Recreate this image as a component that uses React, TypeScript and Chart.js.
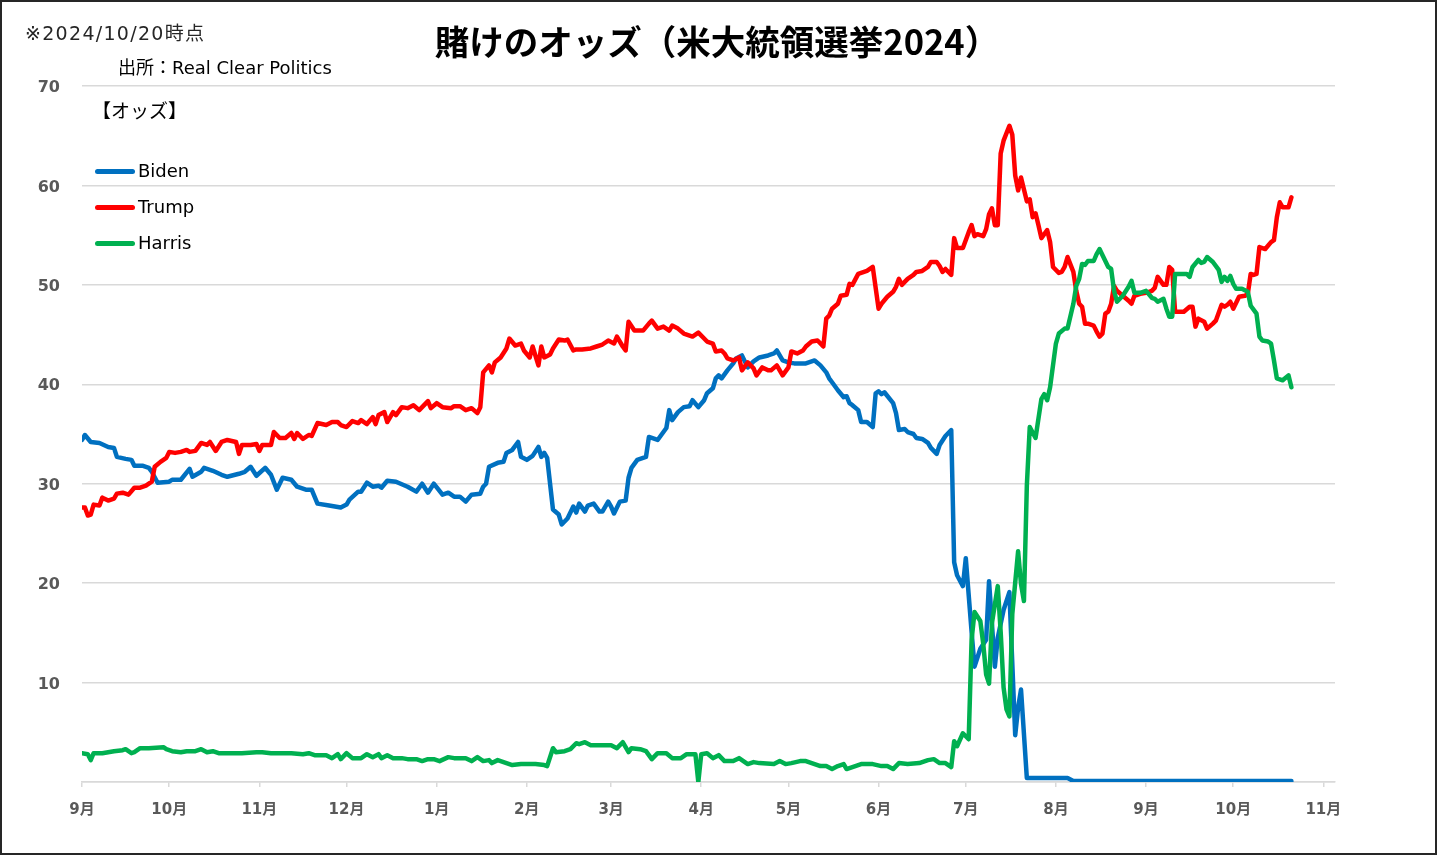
import React, { useEffect, useRef } from "react";
import { Chart, registerables } from "chart.js";

Chart.register(...registerables);

// x values: days since 2023-09-01
const monthDays = [0, 30, 61, 91, 122, 153, 182, 213, 243, 274, 304, 335, 366, 396, 427];
const monthLabels = ["9月", "10月", "11月", "12月", "1月", "2月", "3月", "4月", "5月", "6月", "7月", "8月", "9月", "10月", "11月"];
const yTickValues = [0, 10, 20, 30, 40, 50, 60, 70];

const bidenDays = [0, 1, 3, 6, 9, 11, 12, 15, 17, 18, 21, 23, 24, 26, 30, 31, 34, 37, 38, 41, 42, 45, 48, 50, 54, 56, 58, 60, 63, 65, 67, 69, 72, 74, 77, 79, 81, 85, 89, 91, 92, 95, 96, 98, 100, 102, 103, 105, 108, 112, 115, 117, 119, 121, 124, 126, 128, 130, 132, 134, 137, 138, 139, 140, 143, 145, 146, 148, 150, 151, 153, 155, 157, 158, 159, 160, 162, 164, 165, 167, 169, 170, 171, 173, 174, 176, 178, 179, 181, 182, 183, 185, 187, 188, 189, 191, 194, 195, 196, 198, 200, 201, 202, 203, 205, 207, 209, 210, 212, 214, 215, 217, 218, 219, 220, 222, 224, 225, 227, 229, 231, 233, 236, 238, 239, 241, 243, 245, 247, 249, 252, 254, 256, 257, 258, 260, 262, 263, 264, 265, 267, 268, 270, 272, 273, 274, 275, 276, 279, 280, 281, 283, 284, 286, 287, 289, 291, 292, 294, 295, 297, 299, 300, 301, 303, 304, 306, 307, 309, 311, 312, 314, 315, 317, 319, 321, 322, 323, 325, 339, 341, 416];
const bidenOdds = [34.4, 34.9, 34.2, 34.1, 33.7, 33.6, 32.7, 32.5, 32.4, 31.8, 31.8, 31.6, 31.2, 30.1, 30.2, 30.4, 30.4, 31.5, 30.7, 31.2, 31.6, 31.3, 30.9, 30.7, 31.0, 31.2, 31.7, 30.8, 31.6, 30.9, 29.4, 30.6, 30.4, 29.7, 29.4, 29.4, 28.0, 27.8, 27.6, 27.9, 28.4, 29.2, 29.2, 30.1, 29.7, 29.8, 29.6, 30.3, 30.2, 29.7, 29.2, 30.0, 29.1, 30.0, 28.9, 29.1, 28.7, 28.7, 28.2, 28.9, 29.0, 29.7, 30.0, 31.7, 32.1, 32.2, 33.1, 33.4, 34.2, 32.7, 32.4, 32.8, 33.7, 32.7, 33.1, 32.6, 27.4, 26.9, 25.9, 26.5, 27.7, 27.1, 28.0, 27.2, 27.8, 28.0, 27.2, 27.2, 28.2, 27.7, 27.0, 28.2, 28.3, 30.6, 31.6, 32.4, 32.7, 34.7, 34.6, 34.4, 35.2, 35.6, 37.4, 36.4, 37.2, 37.7, 37.8, 38.4, 37.7, 38.4, 39.1, 39.6, 40.6, 40.9, 40.6, 41.4, 42.1, 42.6, 42.9, 41.7, 42.3, 42.7, 42.9, 43.1, 43.4, 42.4, 42.2, 42.1, 42.1, 42.1, 42.4, 41.9, 41.2, 40.6, 40.2, 39.4, 38.7, 38.8, 38.1, 37.9, 37.4, 36.2, 36.2, 35.7, 39.1, 39.3, 39.0, 39.2, 38.1, 37.1, 35.4, 35.5, 35.2, 35.0, 34.6, 34.5, 34.1, 33.6, 33.0, 33.9, 34.8, 35.4, 22.1, 20.8, 19.7, 22.5, 15.1, 11.6, 13.4, 14.3, 20.2, 11.6, 14.5, 17.3, 19.1, 4.7, 7.5, 9.3, 0.4, 0.4, 0.1, 0.1];

const trumpDays = [0, 1, 2, 3, 4, 6, 7, 9, 11, 12, 14, 16, 18, 20, 22, 24, 25, 27, 29, 30, 32, 34, 36, 37, 39, 41, 43, 44, 46, 48, 50, 53, 54, 55, 58, 60, 61, 62, 65, 66, 68, 70, 72, 73, 74, 76, 78, 79, 81, 84, 86, 88, 89, 91, 93, 95, 96, 98, 100, 101, 102, 104, 105, 107, 108, 110, 112, 114, 116, 119, 120, 122, 124, 127, 128, 130, 132, 134, 136, 137, 138, 140, 141, 142, 144, 146, 147, 149, 151, 152, 154, 155, 157, 158, 159, 161, 162, 164, 166, 167, 169, 170, 172, 175, 177, 179, 181, 183, 184, 186, 187, 188, 190, 193, 195, 196, 198, 200, 202, 203, 205, 207, 210, 212, 214, 215, 217, 218, 220, 221, 222, 224, 226, 227, 229, 231, 232, 234, 236, 237, 239, 241, 243, 244, 246, 248, 249, 251, 253, 255, 256, 257, 258, 260, 261, 263, 264, 265, 267, 269, 270, 272, 274, 275, 277, 279, 280, 281, 282, 284, 286, 287, 289, 291, 292, 294, 295, 296, 297, 299, 300, 301, 303, 305, 306, 307, 308, 310, 311, 312, 313, 314, 315, 316, 317, 319, 320, 321, 322, 323, 325, 326, 327, 328, 329, 330, 332, 333, 334, 336, 337, 338, 339, 341, 342, 343, 344, 345, 346, 348, 349, 350, 351, 352, 353, 354, 355, 356, 358, 360, 361, 362, 364, 366, 368, 369, 370, 372, 373, 374, 375, 376, 377, 379, 381, 382, 383, 384, 386, 387, 389, 390, 392, 393, 394, 395, 396, 398, 400, 401, 402, 403, 404, 405, 407, 409, 410, 411, 412, 413, 415, 416];
const trumpOdds = [27.6, 27.6, 26.8, 26.9, 27.9, 27.8, 28.6, 28.3, 28.5, 29.0, 29.1, 28.9, 29.6, 29.6, 29.8, 30.2, 31.7, 32.2, 32.6, 33.2, 33.1, 33.2, 33.4, 33.2, 33.3, 34.1, 33.9, 34.2, 33.3, 34.2, 34.4, 34.2, 33.0, 33.9, 33.9, 34.0, 33.3, 33.9, 33.9, 35.2, 34.6, 34.6, 35.1, 34.5, 35.1, 34.5, 34.9, 34.8, 36.1, 35.9, 36.2, 36.2, 35.9, 35.7, 36.3, 36.1, 36.4, 36.0, 36.7, 36.0, 36.9, 37.2, 36.2, 37.2, 36.9, 37.7, 37.6, 37.9, 37.4, 38.3, 37.6, 38.1, 37.7, 37.6, 37.8, 37.8, 37.4, 37.6, 37.1, 37.7, 41.2, 41.9, 41.2, 42.2, 42.7, 43.6, 44.6, 43.9, 44.1, 43.4, 42.7, 43.8, 41.9, 43.8, 42.7, 43.0, 43.6, 44.5, 44.4, 44.5, 43.4, 43.5, 43.5, 43.6, 43.8, 44.0, 44.4, 44.1, 44.8, 43.8, 43.4, 46.3, 45.4, 45.4, 46.1, 46.4, 45.6, 45.8, 45.4, 45.9, 45.6, 45.1, 44.8, 45.2, 44.6, 44.3, 44.1, 43.3, 43.4, 43.1, 42.6, 42.4, 42.7, 41.4, 42.2, 41.6, 40.9, 41.7, 41.4, 41.4, 41.9, 40.9, 41.7, 43.3, 43.1, 43.4, 43.8, 44.3, 44.4, 43.8, 46.6, 46.9, 47.6, 48.1, 48.9, 49.0, 50.1, 50.0, 51.1, 51.3, 51.4, 51.8, 47.6, 48.1, 48.8, 49.3, 49.8, 50.6, 50.0, 50.6, 51.0, 51.3, 51.4, 51.8, 52.3, 52.3, 51.9, 51.3, 51.6, 51.0, 54.7, 53.7, 53.7, 55.3, 56.0, 54.9, 55.1, 54.9, 55.6, 57.1, 57.7, 56.0, 56.0, 63.2, 64.5, 66.0, 65.1, 61.0, 59.5, 60.8, 58.4, 58.6, 56.8, 57.2, 56.0, 54.7, 55.5, 54.3, 51.8, 51.2, 51.3, 51.8, 52.8, 51.3, 49.4, 48.1, 47.8, 46.1, 46.1, 45.9, 45.3, 44.8, 45.1, 47.1, 47.3, 48.1, 49.9, 49.4, 48.9, 48.4, 48.1, 48.9, 49.1, 49.2, 49.4, 49.7, 50.8, 50.0, 50.0, 51.8, 51.5, 47.3, 47.3, 47.3, 47.8, 47.8, 45.8, 46.6, 46.3, 45.6, 46.1, 46.4, 48.0, 47.8, 48.0, 48.3, 47.6, 48.8, 48.9, 49.1, 51.1, 51.0, 51.1, 53.8, 53.6, 54.3, 54.5, 56.8, 58.3, 57.8, 57.8, 58.8];

const harrisDays = [0, 2, 3, 4, 7, 9, 11, 14, 15, 17, 18, 20, 23, 28, 29, 31, 34, 36, 39, 41, 43, 45, 47, 50, 55, 60, 62, 65, 72, 76, 78, 80, 84, 86, 88, 89, 91, 93, 96, 98, 100, 102, 103, 105, 107, 110, 112, 115, 117, 119, 121, 123, 126, 128, 132, 134, 136, 138, 140, 141, 143, 146, 148, 151, 156, 159, 160, 162, 163, 166, 168, 170, 171, 173, 175, 182, 184, 186, 188, 189, 192, 194, 196, 198, 201, 203, 206, 208, 211, 212, 213, 215, 217, 219, 221, 224, 226, 229, 231, 233, 238, 240, 242, 244, 247, 249, 252, 254, 256, 258, 260, 262, 263, 265, 268, 272, 275, 277, 279, 281, 284, 288, 291, 293, 295, 297, 299, 300, 301, 303, 305, 306, 307, 309, 310, 311, 312, 313, 315, 316, 317, 318, 319, 320, 322, 323, 324, 325, 326, 328, 330, 331, 332, 333, 335, 336, 338, 339, 341, 342, 343, 344, 345, 346, 348, 349, 350, 351, 353, 354, 355, 356, 358, 360, 361, 362, 364, 366, 368, 369, 370, 372, 373, 374, 375, 376, 378, 380, 381, 382, 384, 385, 386, 387, 389, 391, 392, 393, 394, 395, 396, 397, 399, 401, 402, 404, 405, 406, 408, 409, 410, 411, 413, 415, 416];
const harrisOdds = [2.9, 2.8, 2.2, 2.9, 2.9, 3.0, 3.1, 3.2, 3.3, 2.9, 3.0, 3.4, 3.4, 3.5, 3.3, 3.1, 3.0, 3.1, 3.1, 3.3, 3.0, 3.1, 2.9, 2.9, 2.9, 3.0, 3.0, 2.9, 2.9, 2.8, 2.9, 2.7, 2.7, 2.4, 2.8, 2.3, 2.9, 2.4, 2.4, 2.8, 2.5, 2.8, 2.4, 2.7, 2.4, 2.4, 2.3, 2.3, 2.1, 2.3, 2.3, 2.1, 2.5, 2.4, 2.4, 2.1, 2.5, 2.1, 2.2, 1.9, 2.2, 1.9, 1.7, 1.8, 1.8, 1.7, 1.6, 3.4, 3.0, 3.1, 3.3, 3.9, 3.8, 4.0, 3.7, 3.7, 3.4, 4.0, 3.0, 3.4, 3.3, 3.1, 2.3, 2.9, 2.9, 2.4, 2.4, 2.8, 2.8, 0.0, 2.8, 2.9, 2.4, 2.7, 2.1, 2.1, 2.4, 1.8, 2.0, 1.9, 1.8, 2.1, 1.8, 1.9, 2.1, 2.1, 1.8, 1.6, 1.6, 1.3, 1.6, 1.8, 1.3, 1.5, 1.8, 1.8, 1.6, 1.6, 1.3, 1.9, 1.8, 1.9, 2.2, 2.3, 1.9, 1.9, 1.5, 4.1, 3.6, 4.9, 4.3, 14.3, 17.1, 16.2, 13.9, 10.8, 9.9, 16.0, 19.7, 15.1, 9.5, 7.3, 6.6, 16.9, 23.2, 19.9, 18.2, 29.8, 35.7, 34.6, 38.5, 39.0, 38.4, 39.7, 44.1, 45.1, 45.6, 45.6, 48.1, 49.9, 50.6, 52.1, 52.0, 52.4, 52.4, 53.1, 53.6, 53.0, 51.8, 51.6, 49.4, 48.3, 48.9, 49.8, 50.4, 49.2, 49.2, 49.4, 48.7, 48.6, 48.3, 48.6, 47.6, 46.8, 46.8, 51.1, 51.1, 51.1, 50.8, 51.8, 52.5, 52.2, 52.3, 52.8, 52.3, 51.5, 50.3, 50.8, 50.4, 50.9, 50.1, 49.6, 49.6, 49.3, 47.9, 47.1, 44.8, 44.4, 44.3, 44.1, 42.4, 40.6, 40.4, 40.9, 39.7];

const seriesNames = ["Biden", "Trump", "Harris"];
const seriesColors = ["#0070C0", "#FF0000", "#00B050"];

const titleText = "賭けのオッズ（米大統領選挙2024）";
const asOfText = "※2024/10/20時点";
const sourceText = "出所：Real Clear Politics";
const unitText = "【オッズ】";

const W = 1437;
const H = 855;
const latinFont = "'DejaVu Sans', 'Noto Sans CJK JP', sans-serif";
const cjkFont = "'Noto Sans CJK JP', 'DejaVu Sans', sans-serif";

function toPoints(days: number[], vals: number[]) {
  return days.map((d, i) => ({ x: d, y: vals[i] }));
}

export default function App() {
  const canvasRef = useRef<HTMLCanvasElement | null>(null);

  useEffect(() => {
    const canvas = canvasRef.current;
    if (!canvas) return;
    const dataSets = [
      toPoints(bidenDays, bidenOdds),
      toPoints(trumpDays, trumpOdds),
      toPoints(harrisDays, harrisOdds),
    ];
    const chart = new Chart(canvas, {
      type: "line",
      data: {
        datasets: dataSets.map((pts, i) => ({
          label: seriesNames[i],
          data: pts,
          borderColor: seriesColors[i],
          backgroundColor: seriesColors[i],
          borderWidth: 4.5,
          pointRadius: 0,
          fill: false,
          tension: 0,
          borderJoinStyle: "round" as const,
          borderCapStyle: "round" as const,
          order: 3 - i,
        })),
      },
      options: {
        responsive: false,
        animation: false,
        devicePixelRatio: 1,
        layout: { padding: { left: 30, right: 102, top: 86, bottom: 20 } },
        plugins: {
          legend: { display: false },
          tooltip: { enabled: false },
          title: { display: false },
        },
        scales: {
          x: {
            type: "linear",
            min: 0,
            max: 431,
            afterBuildTicks: (axis: any) => {
              axis.ticks = monthDays.map((v) => ({ value: v }));
            },
            afterFit: (axis: any) => {
              axis.height = 53;
            },
            ticks: {
              autoSkip: false,
              maxRotation: 0,
              padding: 14,
              color: "#595959",
              font: { family: latinFont, size: 15, weight: "bold" },
              callback: (_v: any, i: number) => monthLabels[i],
            },
            grid: {
              drawOnChartArea: false,
              drawTicks: true,
              tickLength: 5,
              color: "#d9d9d9",
              lineWidth: 1.5,
            },
            border: { display: true, color: "#d9d9d9", width: 1.5 },
          },
          y: {
            min: 0,
            max: 70,
            afterBuildTicks: (axis: any) => {
              axis.ticks = yTickValues.map((v) => ({ value: v }));
            },
            afterFit: (axis: any) => {
              axis.width = 52;
            },
            ticks: {
              padding: 22,
              labelOffset: 2,
              color: "#595959",
              font: { family: latinFont, size: 16, weight: "bold" },
              callback: (v: any) => (v === 0 ? "" : String(v)),
            },
            grid: { color: "#d9d9d9", lineWidth: 1.5, drawTicks: false },
            border: { display: false },
          },
        },
      },
    });
    return () => chart.destroy();
  }, []);

  const abs = (l: number, t: number, extra: any = {}) => ({
    position: "absolute" as const,
    left: l,
    top: t,
    whiteSpace: "nowrap" as const,
    ...extra,
  });

  return (
    <div style={{ position: "absolute", left: 0, top: 0, width: W, height: H, background: "#fff", overflow: "hidden" }}>
      <canvas ref={canvasRef} width={W} height={H} style={{ position: "absolute", left: 0, top: 0, width: W, height: H }} />
      <div style={abs(0, 22, { width: 1434, textAlign: "center", fontFamily: cjkFont, fontWeight: 700, fontSize: 34.5, lineHeight: "36px", color: "#000" })}>
        {titleText}
      </div>
      <div style={abs(25, 22, { fontFamily: latinFont, fontSize: 19, lineHeight: "22px", letterSpacing: "1.3px", color: "#262626" })}>
        {asOfText}
      </div>
      <div style={abs(118, 57, { fontFamily: latinFont, fontSize: 18, lineHeight: "22px", color: "#000" })}>
        {sourceText}
      </div>
      <div style={abs(92, 99, { fontFamily: cjkFont, fontSize: 19, lineHeight: "22px", color: "#000" })}>
        {unitText}
      </div>
      {seriesNames.map((name, i) => (
        <div key={name}>
          <div style={abs(95, 169 + i * 36, { width: 40, height: 5, borderRadius: 3, background: seriesColors[i] })} />
          <div style={abs(138, 160 + i * 36, { fontFamily: latinFont, fontSize: 18, lineHeight: "22px", color: "#000" })}>
            {name}
          </div>
        </div>
      ))}
      <div style={{ position: "absolute", left: 0, top: 0, width: W, height: H, boxSizing: "border-box", border: "2px solid #262626", pointerEvents: "none" }} />
    </div>
  );
}
